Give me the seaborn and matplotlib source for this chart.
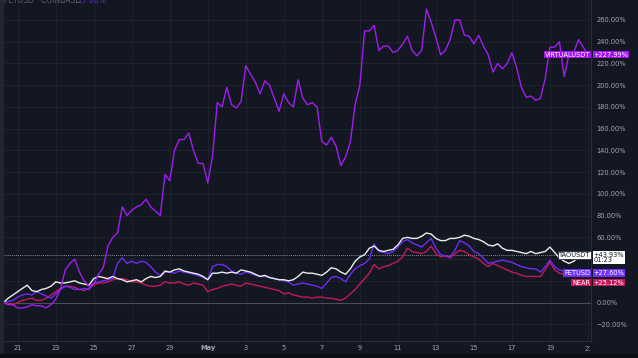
import matplotlib

matplotlib.use("Agg")
import matplotlib.pyplot as plt
import matplotlib.dates as mdates
from matplotlib.patches import Rectangle
from matplotlib.transforms import Bbox, blended_transform_factory
import pandas as pd
import seaborn as sns

# 6-hourly % change since the start
START = "2025-04-20 06:00"
STEP = "6h"

VIRTUAL = [
    0, -2, -2, -5, -5, -4, -2, -3, -3, -5,
    -2, 3, 12, 30, 36, 40, 28, 20, 15, 17,
    26, 32, 52, 60, 64, 88, 80, 85, 88, 90,
    95, 88, 84, 80, 118, 112, 140, 150, 150, 156,
    140, 128, 128, 110, 135, 184, 180, 198, 182, 179,
    185, 218, 210, 203, 192, 204, 200, 188, 176, 192,
    184, 180, 205, 188, 182, 184, 180, 148, 145, 152,
    144, 126, 134, 148, 182, 200, 250, 250, 255, 232,
    236, 236, 230, 232, 238, 245, 232, 227, 232, 270,
    258, 244, 228, 232, 242, 260, 260, 246, 245, 238,
    246, 236, 228, 212, 220, 215, 220, 230, 216, 198,
    189, 190, 186, 188, 206, 235, 235, 240, 208, 228,
    230, 242, 235, 227.99,
]
TAO = [
    0, 4, 7, 10, 13, 16, 11, 10, 12, 13,
    15, 19, 18, 18, 19, 20, 18, 17, 16, 22,
    24, 23, 22, 24, 22, 21, 19, 20, 21, 19,
    22, 24, 23, 24, 29, 28, 30, 31, 29, 28,
    27, 26, 24, 21, 27, 27, 28, 27, 28, 27,
    30, 29, 28, 26, 24, 25, 23, 22, 21, 21,
    20, 21, 24, 28, 27, 27, 26, 25, 28, 32,
    31, 28, 26, 31, 38, 42, 44, 50, 52, 48,
    47, 48, 49, 53, 59, 60, 59, 59, 61, 64,
    63, 59, 57, 57, 59, 59, 60, 62, 61, 59,
    58, 56, 53, 52, 54, 50, 48, 48, 47, 46,
    45, 47, 45, 46, 47, 51, 46, 41, 38, 36,
    38, 42, 44, 43.93,
]
FET = [
    0, 1, 2, 5, 7, 8, 7, 10, 8, 6,
    4, 8, 12, 15, 14, 12, 12, 13, 12, 18,
    19, 20, 21, 22, 36, 41, 36, 38, 36, 38,
    37, 33, 28, 25, 28, 28, 27, 29, 28, 27,
    26, 25, 23, 21, 33, 35, 35, 33, 29, 27,
    26, 28, 27, 25, 24, 24, 23, 22, 21, 20,
    19, 16, 17, 18, 17, 16, 15, 13, 18, 23,
    24, 22, 19, 26, 31, 34, 36, 40, 54, 47,
    46, 45, 47, 51, 56, 58, 55, 53, 51, 55,
    59, 50, 44, 43, 42, 48, 57, 55, 52, 47,
    45, 41, 36, 37, 38, 39, 38, 37, 35, 33,
    32, 31, 31, 28, 33, 39, 33, 30, 29, 28,
    27, 28, 27, 27.6,
]
NEAR = [
    0, -1, -2, 0, 2, 3, 4, 2, 2, 4,
    7, 10, 13, 15, 15, 14, 12, 11, 13, 16,
    18, 18, 19, 21, 22, 22, 21, 19, 19, 18,
    16, 15, 15, 16, 19, 18, 18, 19, 17, 16,
    18, 17, 16, 10, 12, 13, 15, 16, 17, 16,
    15, 18, 17, 16, 15, 14, 13, 12, 11, 8,
    9, 7, 6, 5, 5, 4, 5, 5, 4, 4,
    3, 2, 4, 8, 12, 17, 22, 27, 35, 31,
    33, 34, 36, 38, 42, 50, 47, 46, 45, 47,
    52, 45, 42, 43, 41, 45, 48, 47, 44, 42,
    40, 36, 33, 36, 34, 32, 30, 28, 27, 25,
    24, 24, 24, 24, 30, 37, 30, 27, 26, 25,
    25, 26, 25, 25.12,
]

SYMBOLS = ["NEAR", "FETUSD", "TAOUSDT", "VIRTUALUSDT"]
LINE_COLORS = ["#c4195c", "#6d2cf5", "#ececec", "#a11cf0"]
LABEL_COLORS = ["#c2185b", "#7030ff", "#ffffff", "#a010f2"]
LABEL_TEXT = ["#ffffff", "#ffffff", "#131722", "#ffffff"]
LAST_TEXT = ["+25.12%", "+27.60%", "+43.93%\n01:23", "+227.99%"]
LABEL_Y = [18.4, 27.2, 43.7, 227.99]  # label centres (shifted apart like the chart does)

Y_TICKS = list(range(-20, 261, 20))
HIDDEN_Y = [20, 40]  # covered by the last-value labels
X_TICKS = pd.date_range("2025-04-21", "2025-05-21", freq="2D")

BG = "#131722"
GRID = "#1e222d"
BORDER = "#2a2e39"
TEXT = "#a3a6af"

times = pd.date_range(START, periods=len(VIRTUAL), freq=STEP)
frames = []
for sym, vals in zip(SYMBOLS, [NEAR, FET, TAO, VIRTUAL]):
    frames.append(pd.DataFrame({"time": times, "value": vals, "symbol": sym}))
df = pd.concat(frames, ignore_index=True)

sns.set_theme(
    style="darkgrid",
    rc={
        "axes.facecolor": BG,
        "figure.facecolor": BG,
        "grid.color": GRID,
        "grid.linewidth": 0.8,
    },
)
plt.rcParams["font.family"] = ["DejaVu Sans"]

fig = plt.figure(figsize=(6.38, 3.58), dpi=100)
ax = fig.add_axes([3 / 638, 17 / 358, 588 / 638, 341 / 358])

ax.axhline(0, color="#4a4e59", lw=0.8, zorder=1)
ax.axhline(43.93, color="#b2b5be", lw=0.6, ls=(0, (1, 1.5)), zorder=1)

sns.lineplot(
    data=df,
    x="time",
    y="value",
    hue="symbol",
    hue_order=SYMBOLS,
    palette=dict(zip(SYMBOLS, LINE_COLORS)),
    estimator=None,
    legend=False,
    linewidth=1.0,
    ax=ax,
    zorder=2,
)

ax.set_xlim(pd.Timestamp("2025-04-20 05:27"), pd.Timestamp("2025-05-21 03:50"))
ax.set_ylim(-35.4, 278.4)
ax.set_xlabel("")
ax.set_ylabel("")

# last date label gets cut by the price scale, drawn separately below
ax.set_xticks(
    X_TICKS,
    ["May" if t.day == 1 else ("" if t == X_TICKS[-1] else str(t.day)) for t in X_TICKS],
)
for lab, t in zip(ax.get_xticklabels(), X_TICKS):
    if t.day == 1:
        lab.set_fontweight("bold")

last_lab = fig.text(
    mdates.date2num(X_TICKS[-1] + pd.Timedelta(hours=1)), 9.3 / 358, str(X_TICKS[-1].day),
    transform=blended_transform_factory(ax.transData, fig.transFigure),
    ha="center", va="center", fontsize=4.8, color=TEXT,
)
last_lab.set_clip_box(Bbox.from_extents(0, 0, 589.5, 358))
last_lab.set_clip_on(True)

ax.yaxis.tick_right()
ax.set_yticks(
    Y_TICKS,
    ["" if v in HIDDEN_Y else f"{v:.2f}%".replace("-", "\u2212") for v in Y_TICKS],
)
ax.tick_params(axis="x", length=0, pad=3.2, labelsize=4.8, labelcolor=TEXT)
ax.tick_params(axis="y", length=0, pad=4.0, labelsize=4.8, labelcolor=TEXT)

for side, sp in ax.spines.items():
    sp.set_visible(side in ("right", "bottom"))
    sp.set_color(BORDER)
    sp.set_linewidth(0.8)

trans = blended_transform_factory(ax.transAxes, ax.transData)
for sym, bg, fg, last, yv in zip(SYMBOLS, LABEL_COLORS, LABEL_TEXT, LAST_TEXT, LABEL_Y):
    ax.text(
        0.9985, yv, sym, transform=trans, ha="right", va="center",
        fontsize=4.8, color=fg, zorder=5, clip_on=False,
        bbox=dict(boxstyle="square,pad=0.1", fc=bg,
                  ec="#131722" if bg == "#ffffff" else "none", lw=0.5),
    )
    two_line = "\n" in last
    ax.text(
        1.004, 46.8 if two_line else yv, last, transform=trans, ha="left",
        va="top" if two_line else "center", fontsize=4.8, color=fg, zorder=5,
        clip_on=False, linespacing=0.95,
        bbox=dict(boxstyle="square,pad=0.1", fc=bg, ec="none"),
    )

fig.text(4 / 638, 0.999, "FETUSD \u00b7 COINBASE", va="center", ha="left", fontsize=5.5, color="#5d606b")
fig.text(78 / 638, 0.999, "27.60%", va="center", ha="left", fontsize=5.5, color="#5a2fd0")

fig.add_artist(Rectangle((0, 0), 3 / 638, 1, transform=fig.transFigure, color="#22262f", zorder=10))
fig.add_artist(Rectangle((0, 0), 1, 4 / 358, transform=fig.transFigure, color="#0c0e14", zorder=10))

fig.savefig("out.png", dpi=100, facecolor=BG)
